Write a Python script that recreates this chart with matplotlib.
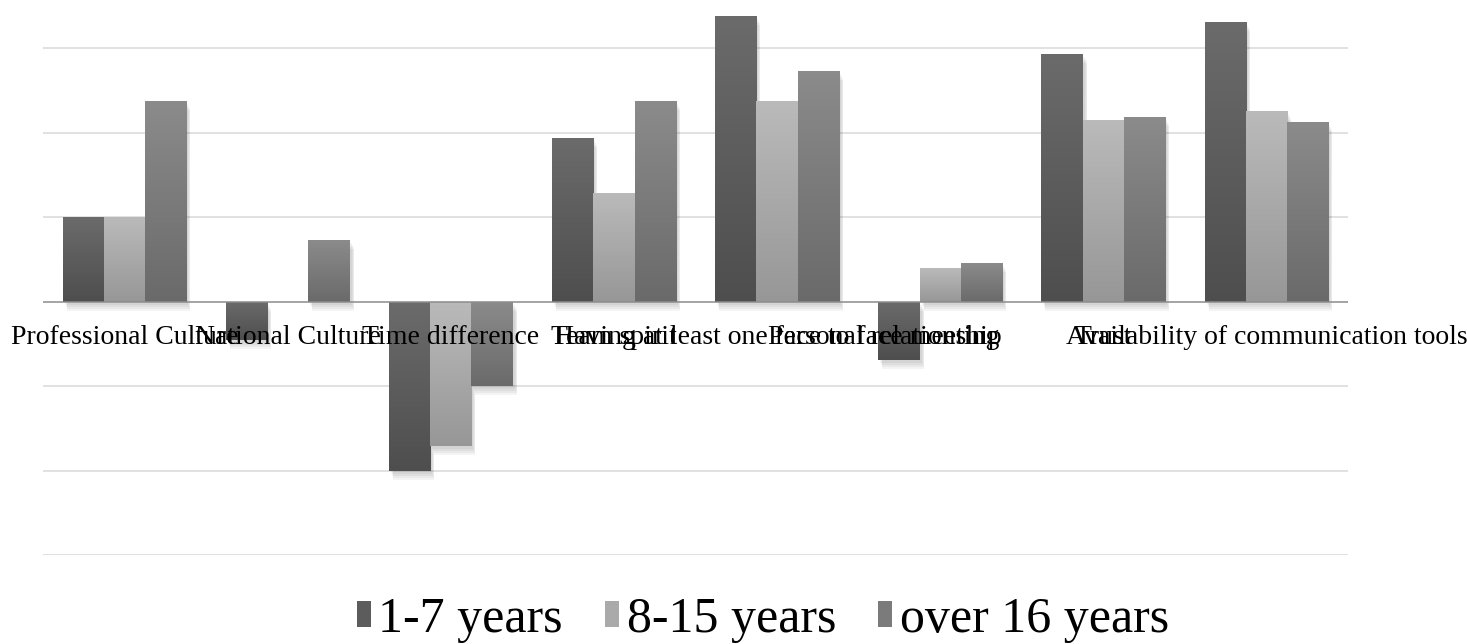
import numpy as np
import matplotlib
matplotlib.use("Agg")
import matplotlib.pyplot as plt
from matplotlib.colors import LinearSegmentedColormap
from matplotlib.patches import Rectangle, Patch
import matplotlib.transforms as mtransforms

categories = [
    "Professional Culture",
    "National Culture",
    "Time difference",
    "Team spirit",
    "Having at least one face to face meeting",
    "Personal relationship",
    "Trust",
    "Availability of communication tools",
]
series_names = ["1-7 years", "8-15 years", "over 16 years"]
years_1_7 = [1.00, -0.45, -2.00, 1.93, 3.38, -0.69, 2.93, 3.31]
years_8_15 = [1.00, 0.00, -1.71, 1.29, 2.37, 0.40, 2.15, 2.26]
years_16_plus = [2.37, 0.73, -1.00, 2.37, 2.73, 0.46, 2.18, 2.13]
grid_levels = [-3, -2, -1, 1, 2, 3]

# (top colour, bottom colour) for each series gradient
gradients = [("#6b6b6b", "#4e4e4e"), ("#bababa", "#979797"), ("#8b8b8b", "#6a6a6a")]
solid = ["#5c5c5c", "#aaaaaa", "#7b7b7b"]

serif = ["Liberation Serif", "DejaVu Serif"]

fig = plt.figure(figsize=(14.67, 6.44), dpi=100)
ax = fig.add_axes([43 / 1467, 89 / 644, 1305 / 1467, 545 / 644])

for g in grid_levels:
    ax.axhline(g, color="#d9d9d9", lw=1.1, zorder=0)
ax.axhline(0, color="#8c8c8c", lw=1.1, zorder=4)

width = 0.253
x = np.arange(len(categories))
grad = np.linspace(0, 1, 256).reshape(-1, 1)

for k, values in enumerate([years_1_7, years_8_15, years_16_plus]):
    top_c, bot_c = gradients[k]
    cmap = LinearSegmentedColormap.from_list(f"g{k}", [bot_c, top_c])
    xs = x + (k - 1) * width
    bars = ax.bar(xs, values, width=width, color=solid[k], linewidth=0, zorder=2)
    for rect in bars:
        x0, y0 = rect.get_x(), rect.get_y()
        w, h = rect.get_width(), rect.get_height()
        if h == 0:
            continue
        lo, hi = min(y0, y0 + h), max(y0, y0 + h)
        # soft drop shadow, offset down and to the right
        for dx, dy in [(2, -3), (3, -5), (4, -7), (4, -9)]:
            off = mtransforms.ScaledTranslation(dx / 100, dy / 100, fig.dpi_scale_trans)
            sh = Rectangle((x0, lo), w, hi - lo, facecolor="black",
                           alpha=0.045, lw=0, zorder=1,
                           transform=ax.transData + off)
            ax.add_patch(sh)
        im = ax.imshow(grad, extent=[x0, x0 + w, lo, hi], origin="lower",
                       aspect="auto", cmap=cmap, zorder=3, interpolation="bilinear")
        im.set_clip_path(rect)

# category labels sit just under the zero line; one is nudged left
label_nudge = {"Personal relationship": -0.34}
for i, label in enumerate(categories):
    ax.text(i + label_nudge.get(label, 0.0), -0.505, label, ha="center",
            va="baseline", fontsize=20, family=serif, color="black",
            zorder=10, clip_on=False)

ax.set_xlim(-0.5, len(categories) - 0.5)
ax.set_ylim(-3, 3.45)
ax.set_xticks([])
ax.set_yticks([])
for s in ax.spines.values():
    s.set_visible(False)

handles = [Patch(facecolor=c, edgecolor="none") for c in solid]
fig.legend(handles, series_names, loc="lower center", bbox_to_anchor=(0.52, -0.068),
           ncol=3, frameon=False, prop={"family": serif, "size": 36},
           handlelength=0.28, handleheight=0.45, handletextpad=0.15,
           columnspacing=0.85)

fig.savefig("out.png", dpi=100, facecolor="white")
